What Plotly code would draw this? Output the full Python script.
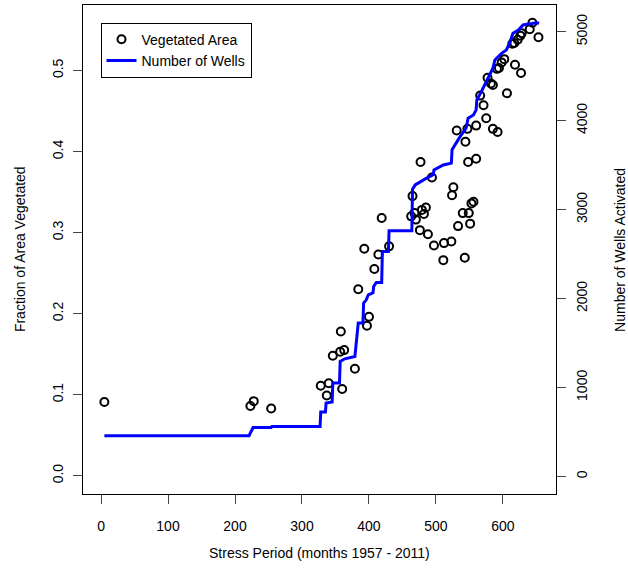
import plotly.graph_objects as go

# Fraction of the study area that is vegetated, by stress period (month index)
veg_period = [5, 223, 228, 254, 328, 337, 340, 346, 357, 358, 360, 363, 379, 384, 393, 397, 400, 408, 414, 419, 430,
              463, 465, 468, 470, 476, 477, 479, 482, 485, 488, 494, 497, 511, 512, 523, 524, 526, 531, 533, 540,
              543, 544, 547, 548, 549, 551, 553, 556, 560, 560,
              566, 571, 575, 577, 582, 585, 585, 592, 591, 594, 598, 602, 606, 614, 617, 618, 622, 626, 628, 627,
              640, 644, 653]
veg_fraction = [0.091, 0.086, 0.092, 0.083, 0.111, 0.099, 0.114, 0.148, 0.153, 0.178, 0.107, 0.155, 0.132, 0.230,
                0.280, 0.185, 0.196, 0.255, 0.273, 0.318, 0.283,
                0.320, 0.345, 0.324, 0.316, 0.303, 0.387, 0.328, 0.323, 0.331, 0.298, 0.368, 0.284, 0.266, 0.287,
                0.289, 0.346, 0.356, 0.426, 0.308, 0.324, 0.269, 0.412, 0.428, 0.387, 0.324, 0.311, 0.336, 0.338,
                0.432, 0.391,
                0.469, 0.457, 0.441, 0.491, 0.484, 0.482, 0.428, 0.424, 0.502, 0.503, 0.510, 0.514, 0.472, 0.533,
                0.534, 0.507, 0.538, 0.543, 0.546, 0.497, 0.551, 0.559, 0.541]

# Cumulative number of wells activated (vertices of the stepped curve)
well_period = [5, 221, 227, 254, 255, 327, 328, 335, 336, 345, 346, 356, 357, 364, 379, 384, 391, 392, 396, 399,
               406, 407, 411, 419, 420, 429, 430, 464, 465, 469, 486, 496, 497, 511, 523, 524, 536, 540, 545, 548,
               556, 560, 561, 569, 578, 585, 588, 598, 605, 610, 615, 623, 630, 640, 650, 654]
well_count = [457, 457, 549, 550, 562, 562, 724, 724, 825, 836, 1049, 1049, 1292, 1322, 1348, 1724, 1724, 1948,
              1985, 2042, 2064, 2135, 2180, 2180, 2528, 2528, 2761, 2761, 3229, 3278, 3353, 3390, 3446, 3502, 3522,
              3672, 3820, 3858, 3915, 4027, 4064, 4120, 4232, 4345, 4476, 4589, 4682, 4757, 4794, 4870, 4982, 5019,
              5075, 5086, 5101, 5094]

x_ticks = [0, 100, 200, 300, 400, 500, 600]
frac_ticks = [0.0, 0.1, 0.2, 0.3, 0.4, 0.5]
frac_labels = ["0.0", "0.1", "0.2", "0.3", "0.4", "0.5"]
well_ticks = [0, 1000, 2000, 3000, 4000, 5000]
well_labels = ["0", "1000", "2000", "3000", "4000", "5000"]

FONT = "Liberation Sans, Arial, Helvetica, sans-serif"

fig = go.Figure()

fig.add_trace(go.Scatter(
    x=veg_period, y=veg_fraction, mode="markers", name="Vegetated Area",
    marker=dict(symbol="circle-open", size=8, color="black", line=dict(width=2, color="black")),
    yaxis="y",
))

fig.add_trace(go.Scatter(
    x=well_period, y=well_count, mode="lines", name="Number of Wells",
    line=dict(color="#0000FF", width=3),
    yaxis="y2",
))

axis_common = dict(
    showgrid=False, zeroline=False, ticks="outside", ticklen=9, tickwidth=1,
    tickcolor="#444444", tickfont=dict(family=FONT, size=14, color="black"),
)

fig.update_layout(
    width=628, height=573,
    margin=dict(l=83, r=72, t=5, b=79, pad=0),
    paper_bgcolor="white", plot_bgcolor="white",
    font=dict(family=FONT, size=14, color="black"),
    showlegend=True,
    legend=dict(
        x=0.037, y=0.964, xanchor="left", yanchor="top",
        bgcolor="white", bordercolor="black", borderwidth=1,
        font=dict(family=FONT, size=14, color="black"),
        tracegroupgap=0, itemwidth=30,
        entrywidth=125, entrywidthmode="pixels",
    ),
    xaxis=dict(
        range=[-26.9, 679.2], tickmode="array", tickvals=x_ticks,
        showline=True, linecolor="black", linewidth=1, mirror=True,
        ticklabelstandoff=10, **axis_common,
    ),
    yaxis=dict(
        range=[-0.02257, 0.5808], tickmode="array", tickvals=frac_ticks, ticktext=frac_labels,
        tickangle=-90, showline=True, linecolor="black", linewidth=1, mirror=True,
        ticklabelstandoff=4, **axis_common,
    ),
    yaxis2=dict(
        range=[-197.8, 5300], tickmode="array", tickvals=well_ticks, ticktext=well_labels,
        tickangle=-90, overlaying="y", side="right", showline=False,
        ticklabelstandoff=4, **axis_common,
    ),
    annotations=[
        dict(text="Stress Period (months 1957 - 2011)", xref="paper", yref="paper",
             x=0.5, y=-0.12, xanchor="center", yanchor="middle", showarrow=False,
             font=dict(family=FONT, size=14, color="black")),
        dict(text="Fraction of Area Vegetated", xref="paper", yref="paper",
             x=-0.134, y=0.5, xanchor="center", yanchor="middle", textangle=-90, showarrow=False,
             font=dict(family=FONT, size=14, color="black")),
        dict(text="Number of Wells Activated", xref="paper", yref="paper",
             x=1.134, y=0.5, xanchor="center", yanchor="middle", textangle=-90, showarrow=False,
             font=dict(family=FONT, size=14, color="black")),
    ],
)

fig.write_html("out.html")
